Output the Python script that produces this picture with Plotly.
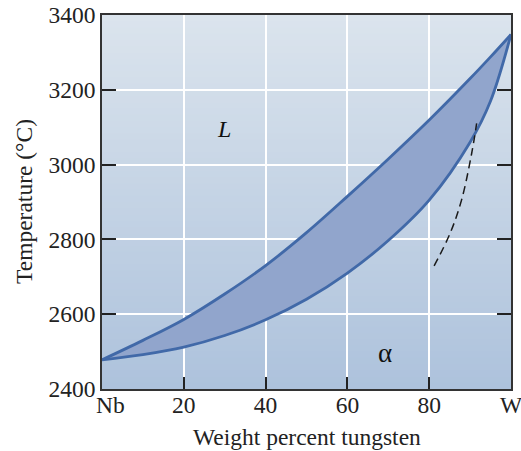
import plotly.graph_objects as go

# ---- data ----
wt_w = [0, 10, 20, 30, 40, 50, 60, 70, 80, 90, 95, 100]
liquidus = [2478, 2530, 2586, 2654, 2730, 2818, 2915, 3015, 3119, 3230, 3288, 3348]
solidus = [2478, 2492, 2512, 2543, 2585, 2640, 2710, 2797, 2905, 3060, 3170, 3348]
dash_x = [81.2, 85.1, 87.9, 90.4, 91.6]
dash_t = [2729, 2816, 2905, 3031, 3110]
x_tickvals = [0, 20, 40, 60, 80, 100]
x_ticktext = ["", "20", "40", "60", "80", "W"]
nb_label = "Nb"
y_tickvals = [2400, 2600, 2800, 3000, 3200, 3400]

FONT = "Liberation Serif"
LINE = "#4169a8"
FILL = "#91a5cc"
TXT = "#222222"
FS = 23.5

fig = go.Figure()
fig.add_trace(go.Scatter(x=wt_w, y=solidus, mode="lines",
                         line=dict(color=LINE, width=2.8, shape="spline", smoothing=1),
                         hoverinfo="skip", showlegend=False))
fig.add_trace(go.Scatter(x=wt_w, y=liquidus, mode="lines", fill="tonexty", fillcolor=FILL,
                         line=dict(color=LINE, width=2.8, shape="spline", smoothing=1),
                         hoverinfo="skip", showlegend=False))
fig.add_trace(go.Scatter(x=dash_x, y=dash_t, mode="lines",
                         line=dict(color="#1a1a1a", width=1.5, dash="8px,5px", shape="spline"),
                         hoverinfo="skip", showlegend=False))

# vertical background gradient via thin rectangles (below grid)
top = (219, 228, 237)
bot = (173, 194, 220)
n = 60
shapes = []
for i in range(n):
    f = (i + 0.5) / n
    c = tuple(round(bot[k] + (top[k] - bot[k]) * f) for k in range(3))
    shapes.append(dict(type="rect", xref="paper", yref="paper", x0=0, x1=1,
                       y0=i / n, y1=(i + 1) / n + 0.002, layer="below",
                       line=dict(width=0), fillcolor="rgb(%d,%d,%d)" % c))
fig.update_layout(shapes=shapes)

fig.add_annotation(x=29.9, y=3094, text="<i>L</i>", showarrow=False,
                   font=dict(family=FONT, size=24, color="#111"))
fig.add_annotation(x=69.2, y=2497, text="α", showarrow=False,
                   font=dict(family=FONT, size=27, color="#111"))
# "Nb" end label, nudged right of the corner as in the reference
fig.add_annotation(x=x_tickvals[0], y=0, yref="paper", xshift=8, yshift=-16,
                   text=nb_label, showarrow=False, xanchor="center", yanchor="middle",
                   font=dict(family=FONT, size=FS, color=TXT))
# axis titles
fig.add_annotation(xref="paper", yref="paper", x=0.5, y=0, yshift=-48,
                   text="Weight percent tungsten", showarrow=False,
                   xanchor="center", yanchor="middle",
                   font=dict(family=FONT, size=FS, color=TXT))
fig.add_annotation(xref="paper", yref="paper", x=0, y=0.5, xshift=-78,
                   text="Temperature (°C)", showarrow=False, textangle=-90,
                   xanchor="center", yanchor="middle",
                   font=dict(family=FONT, size=FS, color=TXT))

fig.update_xaxes(range=[0, 100], tickvals=x_tickvals, ticktext=x_ticktext,
                 ticks="inside", ticklen=12, tickwidth=2, tickcolor=TXT,
                 showline=True, linecolor="#333", linewidth=1.5, mirror=True,
                 showgrid=True, gridcolor="white", gridwidth=1.5,
                 tickfont=dict(family=FONT, size=FS, color=TXT),
                 ticklabelstandoff=-6, ticklabeloverflow="allow",
                 automargin=False, zeroline=False)
fig.update_yaxes(range=[2400, 3400], tickvals=y_tickvals,
                 ticks="inside", ticklen=14, tickwidth=2, tickcolor=TXT,
                 showline=True, linecolor="#333", linewidth=1.5, mirror="ticks",
                 showgrid=True, gridcolor="white", gridwidth=1.5,
                 tickfont=dict(family=FONT, size=FS, color=TXT),
                 ticklabeloverflow="allow",
                 automargin=False, zeroline=False)

fig.update_layout(width=521, height=451, margin=dict(l=102, r=10, t=15, b=62),
                  paper_bgcolor="white", plot_bgcolor="rgba(0,0,0,0)")
fig.write_html("out.html")
